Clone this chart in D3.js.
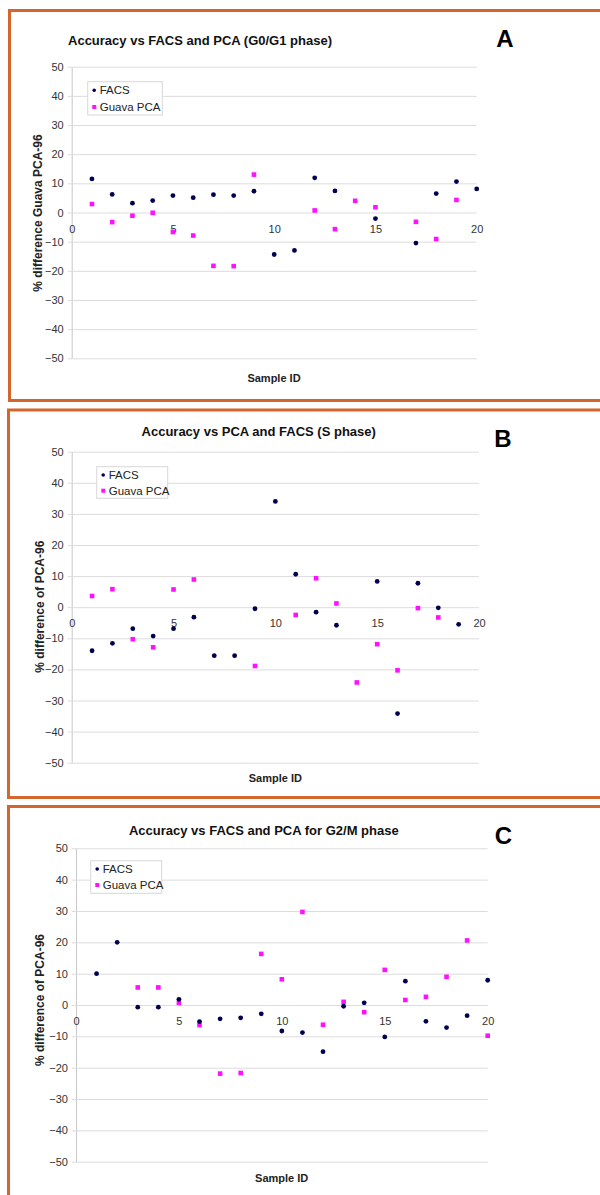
<!DOCTYPE html>
<html>
<head>
<meta charset="utf-8">
<script src="https://cdn.jsdelivr.net/npm/d3@7"></script>
<style>
  html, body { margin: 0; padding: 0; background: #fff; }
  svg { display: block; font-family: "Liberation Sans", Arial, sans-serif; }
</style>
</head>
<body>
<svg id="chart" width="600" height="1195"></svg>
<script>
// sample ids on the x axis
const sampleIds = [1,2,3,4,5,6,7,8,9,10,11,12,13,14,15,16,17,18,19,20];
const xTicks = [0,5,10,15,20];
const yTicks = [-50,-40,-30,-20,-10,0,10,20,30,40,50];
const seriesNames = ['FACS','Guava PCA'];

// panel A, G0/G1 phase
const facsG1  = [11.5,6.2,3.2,4.1,5.8,5.1,6.1,5.8,7.3,-14.4,-13.0,11.9,7.4,null,-2.1,null,-10.5,6.5,10.6,8.1];
const guavaG1 = [2.9,-3.3,-1.1,-0.1,-6.7,-7.9,-18.3,-18.4,13.0,null,null,0.7,-5.7,4.0,1.8,null,-3.2,-9.1,4.3,null];

// panel B, S phase
const facsS  = [-14.0,-11.6,-6.9,-9.3,-6.9,-3.2,-15.6,-15.6,-0.5,34.0,10.6,-1.6,-5.8,null,8.3,-34.2,7.7,-0.2,-5.5,null];
const guavaS = [3.6,5.8,-10.3,-12.9,5.7,8.9,null,null,-18.9,null,-2.5,9.3,1.2,-24.2,-11.9,-20.3,-0.3,-3.3,null,null];

// panel C, G2/M phase
const facsG2M  = [10.0,20.0,-0.7,-0.7,1.8,-5.3,-4.4,-4.1,-2.8,-8.3,-8.8,-14.9,-0.4,0.7,-10.2,7.6,-5.2,-7.2,-3.4,7.9];
const guavaG2M = [null,null,5.6,5.6,0.7,-6.4,-21.9,-21.7,16.3,8.2,29.7,-6.3,1.0,-2.3,11.2,1.6,2.6,9.0,20.6,-9.8];

const FACS_COLOR = '#00004f';
const GUAVA_COLOR = '#ff10ff';
const FRAME_COLOR = '#d4652c';

const panels = [
  { letter: 'A', title: 'Accuracy vs FACS and PCA (G0/G1 phase)', yTitle: '% difference Guava PCA-96',
    facs: facsG1, guava: guavaG1,
    frame: [9.5, 10.5, 640, 390], plot: [71.7, 476.7, 66.7, 358.3],
    titlePos: [200, 44.5], letterPos: [505, 46.5], legend: [87.7, 81.7, 74.6, 33.3, 8.5, 25.3],
    yTitlePos: [38, 213], xTitlePos: [274, 382], xLabOff: 21 },
  { letter: 'B', title: 'Accuracy vs PCA and FACS (S phase)', yTitle: '% difference of PCA-96',
    facs: facsS, guava: guavaS,
    frame: [8.5, 410, 640, 387.5], plot: [71.7, 479, 451.7, 762.7],
    titlePos: [258.7, 436], letterPos: [503, 446.5], legend: [96.7, 466.7, 71, 31.6, 8.3, 24],
    yTitlePos: [39.3, 606.7], xTitlePos: [275.3, 782.3], xLabOff: 20 },
  { letter: 'C', title: 'Accuracy vs FACS and PCA for G2/M phase', yTitle: '% difference of PCA-96',
    facs: facsG2M, guava: guavaG2M,
    frame: [8.5, 806.5, 640, 500], plot: [76, 487.7, 848.3, 1161.7],
    titlePos: [263.8, 834.5], letterPos: [503.3, 843.5], legend: [90.7, 860.7, 71, 32.6, 8.3, 24.3],
    yTitlePos: [39.3, 1000], xTitlePos: [281.7, 1181.7], xLabOff: 20 }
];

const svg = d3.select('#chart');

panels.forEach(p => {
  const g = svg.append('g');
  const [fx, fy, fw, fh] = p.frame;
  g.append('rect')
    .attr('x', fx).attr('y', fy).attr('width', fw).attr('height', fh)
    .attr('fill', 'none').attr('stroke', FRAME_COLOR).attr('stroke-width', 3);

  const [x0, x1, yTop, yBot] = p.plot;
  const x = d3.scaleLinear().domain([0, 20]).range([x0, x1]);
  const y = d3.scaleLinear().domain([-50, 50]).range([yBot, yTop]);

  // y axis + gridlines
  const yAxis = g.append('g')
    .attr('transform', `translate(${x0},0)`)
    .call(d3.axisLeft(y).tickValues(yTicks).tickSize(-(x1 - x0)).tickSizeOuter(0).tickPadding(8));
  yAxis.select('.domain').attr('stroke', '#c8c8c8').attr('stroke-width', 1);
  yAxis.selectAll('.tick line').attr('x1', -4).attr('stroke', '#dcdcdc').attr('stroke-width', 1);
  yAxis.selectAll('.tick text')
    .attr('font-size', 11).attr('fill', '#333').attr('font-family', '"Liberation Sans", Arial, sans-serif');

  // x labels sit under the zero line
  const xAxis = g.append('g')
    .attr('transform', `translate(0,${y(0)})`)
    .call(d3.axisBottom(x).tickValues(xTicks).tickSize(0).tickPadding(0));
  xAxis.select('.domain').remove();
  xAxis.selectAll('.tick text')
    .attr('y', p.xLabOff - 8).attr('dy', '0.71em')
    .attr('font-size', 11).attr('fill', '#333').attr('font-family', '"Liberation Sans", Arial, sans-serif');

  // points
  const facsPts = sampleIds.map((id, i) => ({ id, v: p.facs[i] })).filter(d => d.v != null);
  const guavaPts = sampleIds.map((id, i) => ({ id, v: p.guava[i] })).filter(d => d.v != null);

  g.selectAll('rect.guava').data(guavaPts).enter().append('rect')
    .attr('class', 'guava')
    .attr('x', d => x(d.id) - 2.3).attr('y', d => y(d.v) - 2.3)
    .attr('width', 4.6).attr('height', 4.6)
    .attr('fill', GUAVA_COLOR);

  g.selectAll('circle.facs').data(facsPts).enter().append('circle')
    .attr('class', 'facs')
    .attr('cx', d => x(d.id)).attr('cy', d => y(d.v)).attr('r', 2.4)
    .attr('fill', FACS_COLOR);

  // legend
  const [lx, ly, lw, lh, r1, r2] = p.legend;
  const lg = g.append('g');
  lg.append('rect').attr('x', lx).attr('y', ly).attr('width', lw).attr('height', lh)
    .attr('fill', '#fff').attr('stroke', '#d8d8d8').attr('stroke-width', 1);
  lg.append('circle').attr('cx', lx + 6.5).attr('cy', ly + r1).attr('r', 1.8).attr('fill', FACS_COLOR);
  lg.append('rect').attr('x', lx + 4.6).attr('y', ly + r2 - 2).attr('width', 4).attr('height', 4).attr('fill', GUAVA_COLOR);
  lg.selectAll('text').data(seriesNames).enter().append('text')
    .attr('x', lx + 12).attr('y', (d, i) => ly + (i ? r2 : r1) + 4)
    .attr('font-size', 11.5).attr('fill', '#222')
    .text(d => d);

  // titles
  g.append('text').attr('x', p.titlePos[0]).attr('y', p.titlePos[1])
    .attr('text-anchor', 'middle').attr('font-size', 13).attr('font-weight', 'bold').attr('fill', '#111')
    .text(p.title);
  g.append('text').attr('x', p.letterPos[0]).attr('y', p.letterPos[1])
    .attr('text-anchor', 'middle').attr('font-size', 24).attr('font-weight', 'bold').attr('fill', '#000')
    .text(p.letter);
  g.append('text')
    .attr('transform', `translate(${p.yTitlePos[0]},${p.yTitlePos[1]}) rotate(-90)`)
    .attr('text-anchor', 'middle').attr('dy', '0.35em')
    .attr('font-size', 12).attr('font-weight', 'bold').attr('fill', '#222')
    .text(p.yTitle);
  g.append('text').attr('x', p.xTitlePos[0]).attr('y', p.xTitlePos[1])
    .attr('text-anchor', 'middle').attr('font-size', 11).attr('font-weight', 'bold').attr('fill', '#222')
    .text('Sample ID');
});
</script>
</body>
</html>
